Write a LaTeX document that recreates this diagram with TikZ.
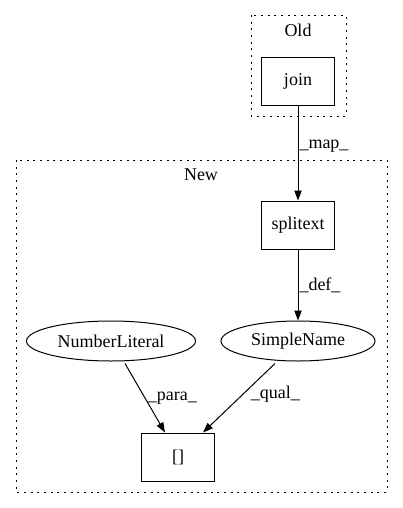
\documentclass[tikz,border=0pt]{standalone}
\usepackage{fontspec}
\setmainfont{Liberation Serif}
\usetikzlibrary{arrows.meta,shapes.geometric}

\tikzset{every picture/.style={line width=0.75pt}}
\tikzset{
  boxnode/.style={draw, rectangle, minimum width=54.75pt, minimum height=36pt, inner sep=0.75pt},
  ovalnode/.style={draw, ellipse, inner sep=0.75pt},
  flow/.style={-{Triangle[length=7.5pt,width=5.5pt]}},
  cluster/.style={dash pattern=on 1.5pt off 3.5pt, line width=0.75pt},
  edgetext/.style={anchor=west, inner sep=0.75pt}
}

\begin{document}
\begin{tikzpicture}[x=0.75pt,y=0.75pt,yscale=-1,xscale=1,font=\fontsize{13.5}{15}\selectfont]
        \useasboundingbox (0,0) rectangle (403,508);
        %Shape: Rectangle [cluster Old]
        \draw [cluster] (251,15) rectangle (346,116);
        %Shape: Rectangle [cluster New]
        \draw [cluster] (16,160) rectangle (387,492);

        % Text Node
        \node [inner sep=0.75pt] (oldlbl) at (298,30) {Old};
        % Text Node
        \node [inner sep=0.75pt] (newlbl) at (201,175) {New};

        %Shape: Rectangle
        \node [boxnode] (join) at (298,81) {join};
        %Shape: Rectangle
        \node [boxnode] (splitext) at (298,225) {splitext};
        %Shape: Ellipse
        \node [ovalnode, minimum width=115.5pt, minimum height=30pt] (simplename) at (298,341) {SimpleName};
        %Shape: Ellipse
        \node [ovalnode, minimum width=126.75pt, minimum height=30pt] (numlit) at (111,341) {NumberLiteral};
        %Shape: Rectangle
        \node [boxnode] (brackets) at (178,457) {[]};

        %Straight Lines
        \draw [flow] (join) -- node [edgetext, pos=0.43] {\_map\_} (splitext);
        %Straight Lines
        \draw [flow] (splitext) -- node [edgetext, pos=0.5] {\_def\_} (simplename);
        %Straight Lines
        \draw [flow] ([shift={(14,2)}]numlit.south) -- node [edgetext, pos=0.5, xshift=1pt] {\_para\_} ([shift={(-13,0)}]brackets.north);
        %Straight Lines
        \draw [flow] ([shift={(-23,2)}]simplename.south) -- node [edgetext, pos=0.45, xshift=5pt] {\_qual\_} ([shift={(25,0)}]brackets.north);
\end{tikzpicture}
\end{document}
